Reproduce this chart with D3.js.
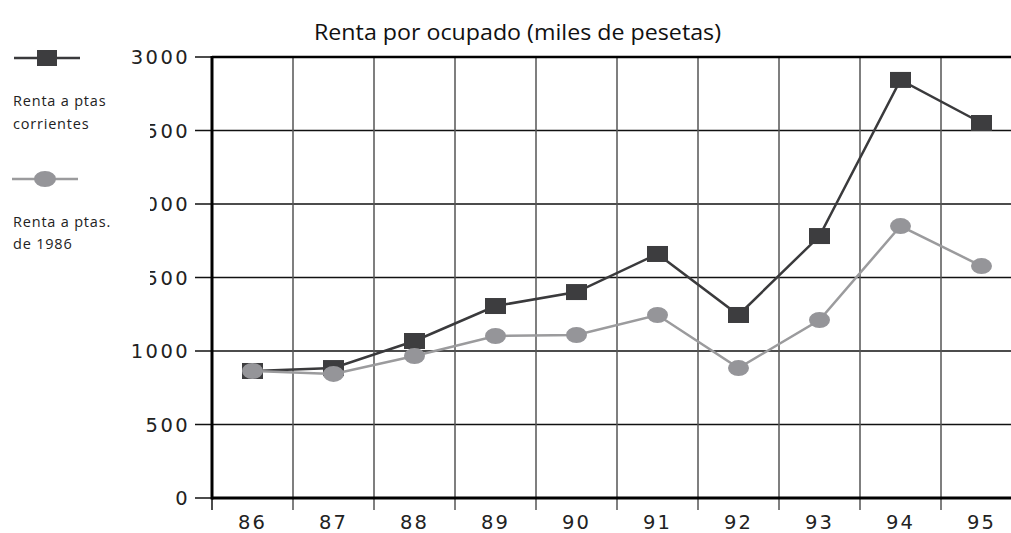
<!DOCTYPE html>
<html>
<head>
<meta charset="utf-8">
<script src="https://cdn.jsdelivr.net/npm/d3@7"></script>
<style>
  html, body { margin: 0; padding: 0; background: #fff; }
  svg { display: block; }
</style>
</head>
<body>
<svg id="chart" width="1011" height="533"></svg>
<script>
// Years (two-digit) on the category axis
const years = ["86", "87", "88", "89", "90", "91", "92", "93", "94", "95"];
// Income per employed person, thousands of pesetas
const rentaCorrientes = [864, 884, 1068, 1306, 1401, 1660, 1245, 1782, 2844, 2551];
const renta1986 = [864, 844, 966, 1102, 1109, 1245, 884, 1211, 1850, 1578];
const yTicks = [0, 500, 1000, 1500, 2000, 2500, 3000];

const svg = d3.select("#chart");
const W = 1011, H = 533;
const plotLeft = 212, plotTop = 57, plotBottom = 498, band = 81;

const x = d3.scaleBand().domain(years).range([plotLeft, plotLeft + band * years.length]).padding(0);
const y = d3.scaleLinear().domain([0, 3000]).range([plotBottom, plotTop]);

const darkFill = "#3d3d3f", darkLine = "#3a3a3c";
const lightFill = "#959599", lightLine = "#9b9b9d";
const tickFont = "'DejaVu Sans', sans-serif";

// Title
svg.append("text")
  .attr("x", 314).attr("y", 40)
  .attr("textLength", 407).attr("lengthAdjust", "spacingAndGlyphs")
  .style("font-family", "'Open Sans', sans-serif").style("font-size", "21px")
  .style("fill", "#111")
  .text("Renta por ocupado (miles de pesetas)");

// Horizontal grid lines with left tick marks
svg.append("g").selectAll("line").data(yTicks).join("line")
  .attr("x1", 195).attr("x2", W)
  .attr("y1", d => y(d)).attr("y2", d => y(d))
  .attr("stroke", "#111").attr("stroke-width", 1.5);

// Vertical grid lines at band boundaries, running past the baseline as ticks
const bounds = years.map(d => x(d)).slice(1);
svg.append("g").selectAll("line").data(bounds).join("line")
  .attr("x1", d => d).attr("x2", d => d)
  .attr("y1", plotTop).attr("y2", 510)
  .attr("stroke", "#555").attr("stroke-width", 1.5);
svg.append("line").attr("x1", plotLeft).attr("x2", plotLeft).attr("y1", plotBottom).attr("y2", 510)
  .attr("stroke", "#111").attr("stroke-width", 1.5);

// Frame: heavy left axis, baseline and top border
svg.append("line").attr("x1", plotLeft).attr("x2", plotLeft).attr("y1", plotTop - 1).attr("y2", plotBottom + 1.5)
  .attr("stroke", "#000").attr("stroke-width", 3);
svg.append("line").attr("x1", plotLeft).attr("x2", W).attr("y1", plotBottom).attr("y2", plotBottom)
  .attr("stroke", "#000").attr("stroke-width", 3);
svg.append("line").attr("x1", plotLeft).attr("x2", W).attr("y1", plotTop).attr("y2", plotTop)
  .attr("stroke", "#000").attr("stroke-width", 2.5);

// Y tick labels; the middle labels are cut off on the left
svg.append("defs").append("clipPath").attr("id", "labelClip")
  .append("rect").attr("x", 150).attr("y", 0).attr("width", 100).attr("height", H);
svg.append("g").selectAll("text").data(yTicks).join("text")
  .attr("x", 190).attr("y", d => y(d) + 7)
  .attr("text-anchor", "end")
  .attr("clip-path", d => (d >= 1500 && d <= 2500) ? "url(#labelClip)" : null)
  .style("font-family", tickFont).style("font-size", "19.5px")
  .style("letter-spacing", "2.4px")
  .style("fill", "#222")
  .text(d => d);

// X tick labels
svg.append("g").selectAll("text").data(years).join("text")
  .attr("x", d => x(d) + x.bandwidth() / 2).attr("y", 529)
  .attr("text-anchor", "middle")
  .style("font-family", tickFont).style("font-size", "19.5px")
  .style("letter-spacing", "2px")
  .style("fill", "#222")
  .text(d => d);

const cx = (d, i) => x(years[i]) + x.bandwidth() / 2;
const line = d3.line().x((d, i) => cx(d, i)).y(d => y(d));

// Current-pesetas series: line with square markers
svg.append("path").datum(rentaCorrientes)
  .attr("d", line).attr("fill", "none")
  .attr("stroke", darkLine).attr("stroke-width", 2.5);
svg.append("g").selectAll("rect").data(rentaCorrientes).join("rect")
  .attr("x", (d, i) => cx(d, i) - 10.5).attr("y", d => y(d) - 8)
  .attr("width", 21).attr("height", 16)
  .attr("fill", darkFill);

// Constant 1986-pesetas series: line with oval markers
svg.append("path").datum(renta1986)
  .attr("d", line).attr("fill", "none")
  .attr("stroke", lightLine).attr("stroke-width", 2.5);
svg.append("g").selectAll("ellipse").data(renta1986).join("ellipse")
  .attr("cx", (d, i) => cx(d, i)).attr("cy", d => y(d))
  .attr("rx", 10.5).attr("ry", 8)
  .attr("fill", lightFill);

// Legend
const legend = svg.append("g");
legend.append("line").attr("x1", 14).attr("x2", 80).attr("y1", 58).attr("y2", 58)
  .attr("stroke", darkLine).attr("stroke-width", 2.5);
legend.append("rect").attr("x", 37).attr("y", 50).attr("width", 20).attr("height", 16).attr("fill", darkFill);
legend.append("line").attr("x1", 12).attr("x2", 78).attr("y1", 179).attr("y2", 179)
  .attr("stroke", lightLine).attr("stroke-width", 2.5);
legend.append("ellipse").attr("cx", 45).attr("cy", 179).attr("rx", 11).attr("ry", 8).attr("fill", lightFill);

const legendText = [
  { t: "Renta a ptas", y: 106 },
  { t: "corrientes", y: 129 },
  { t: "Renta a ptas.", y: 227 },
  { t: "de 1986", y: 249 }
];
legend.selectAll("text").data(legendText).join("text")
  .attr("x", 13).attr("y", d => d.y)
  .style("font-family", "'Open Sans', sans-serif").style("font-size", "14.5px")
  .style("letter-spacing", "0.8px")
  .style("fill", "#222")
  .text(d => d.t);
</script>
</body>
</html>
